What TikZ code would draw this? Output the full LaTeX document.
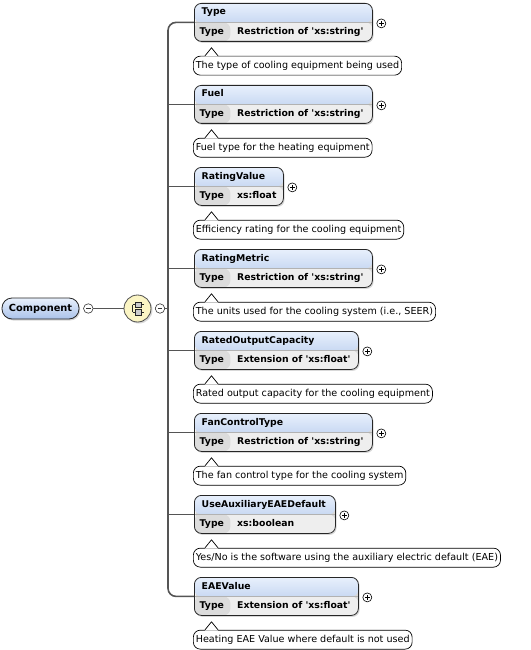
\documentclass[tikz,border=0pt]{standalone}
\usepackage{fontspec}
\setmainfont{DejaVu Sans}[Ligatures=TeXOff]
\usetikzlibrary{calc,shadows}
\definecolor{hdtop}{HTML}{E8F0FC}
\definecolor{hdbot}{HTML}{AAC2E9}
\definecolor{rowgray}{HTML}{EEEEEE}
\definecolor{cellgray}{HTML}{DCDCDC}
\definecolor{linec}{HTML}{555555}
\definecolor{seqfill}{HTML}{FBF5C4}
\tikzset{
  conn/.style={draw=linec, line width=1.6pt},
  elembox/.style={draw=black!85, line width=0.8pt, rounded corners=7pt,
    minimum height=38pt, inner sep=0pt, anchor=north west,
    drop shadow={shadow xshift=1.2pt, shadow yshift=-1.5pt, opacity=0.3},
    path picture={
      \shade[top color=hdtop, bottom color=hdbot]
        (path picture bounding box.north west) rectangle (path picture bounding box.east);
      \fill[rowgray] (path picture bounding box.south west) rectangle (path picture bounding box.east);
      \fill[cellgray] (path picture bounding box.south west) rectangle ($(path picture bounding box.west)+(36pt,0pt)$);
      \draw[black!30, line width=0.5pt] (path picture bounding box.west) -- (path picture bounding box.east);
    }},
  nametxt/.style={font=\fontsize{9.3}{11}\selectfont\bfseries, inner sep=0pt, anchor=west,
    text height=7pt, text depth=2pt},
  annot/.style={draw=black, line width=0.7pt, fill=white, rounded corners=7pt,
    minimum height=19pt, inner xsep=2.5pt, inner ysep=0pt, anchor=north west,
    font=\fontsize{9.6}{11}\selectfont, text height=7pt, text depth=2pt},
  plusc/.style={circle, draw=black, fill=white, line width=0.6pt, minimum size=9pt, inner sep=0pt,
    path picture={
      \draw[line width=0.6pt] ([xshift=-2.4pt]path picture bounding box.center) -- ([xshift=2.4pt]path picture bounding box.center);
      \draw[line width=0.6pt] ([yshift=-2.4pt]path picture bounding box.center) -- ([yshift=2.4pt]path picture bounding box.center);
    }},
  minusc/.style={circle, draw=black!80, fill=white, line width=0.6pt, minimum size=9.5pt, inner sep=0pt,
    path picture={
      \draw[line width=0.6pt] ([xshift=-2.4pt]path picture bounding box.center) -- ([xshift=2.4pt]path picture bounding box.center);
    }},
  compbox/.style={draw=black!85, line width=0.8pt, rounded corners=10pt, top color=hdtop, bottom color=hdbot,
    minimum width=77pt, minimum height=21pt, inner sep=0pt,
    font=\fontsize{9.8}{11}\selectfont\bfseries,
    drop shadow={shadow xshift=1.2pt, shadow yshift=-1.5pt, opacity=0.3}},
  seqnode/.style={circle, draw=black!70, fill=seqfill, line width=0.8pt, minimum size=27pt, inner sep=0pt,
    drop shadow={shadow xshift=1.5pt, shadow yshift=-1.5pt, opacity=0.3}},
  iconline/.style={draw=black!85, line width=0.9pt},
  iconbox/.style={draw=black!85, fill=black!20, line width=0.8pt}
}
\begin{document}
\begin{tikzpicture}[x=1pt, y=-1pt]
\useasboundingbox (0,0) rectangle (530,650);
\fill[white] (0,0) rectangle (530,650);

% root and compositor
\node[compbox] (comp) at (40.5,308.5) {Component};
\node[minusc] (m1) at (88.3,308.5) {};
\node[seqnode] (seq) at (137.5,308.5) {};
\node[minusc] (m2) at (160,308.5) {};
\coordinate (barx) at (168,308.5);
\begin{scope}[shift={(seq.center)}]
  \draw[iconline] (-5,-3.8) -- (6,-3.8);
  \draw[iconline] (-5,3.8) -- (6,3.8);
  \draw[iconline] (-5,-3.8) -- (-5,3.8);
  \draw[iconbox] (-2.5,-6.6) rectangle (3.5,-1.0);
  \draw[iconbox] (-2.5,1.0) rectangle (3.5,6.6);
\end{scope}

% elements
\foreach \i/\nm/\ty/\w/\an in {
  {1/Type/Restriction of 'xs:string'/178/{The type of cooling equipment being used}},
  {2/Fuel/Restriction of 'xs:string'/178/{Fuel type for the heating equipment}},
  {3/RatingValue/xs:float/89/{Efficiency rating for the cooling equipment}},
  {4/RatingMetric/Restriction of 'xs:string'/178/{The units used for the cooling system (i.e., SEER)}},
  {5/RatedOutputCapacity/Extension of 'xs:float'/164/{Rated output capacity for the cooling equipment}},
  {6/FanControlType/Restriction of 'xs:string'/178/{The fan control type for the cooling system}},
  {7/UseAuxiliaryEAEDefault/{xs:boolean}/141/{Yes/No is the software using the auxiliary electric default (EAE)}},
  {8/EAEValue/Extension of 'xs:float'/164/{Heating EAE Value where default is not used}}}
{
  \pgfmathsetmacro\T{3+82*(\i-1)}
  \node[elembox, minimum width=\w pt] (e\i) at (194,\T) {};
  \node[nametxt] (n\i) at ($(e\i.north west)+(7.5pt,-9.5pt)$) {\nm};
  \node[nametxt] (k\i) at ($(e\i.south west)+(5.5pt,9.5pt)$) {Type};
  \node[nametxt] (v\i) at ($(e\i.south west)+(43pt,9.5pt)$) {\ty};
  \node[plusc] (p\i) at ($(e\i.east)+(8.5pt,-1pt)$) {};
  \node[annot] (a\i) at ($(e\i.south west)+(-1pt,-14pt)$) {\an};
  \fill[white] ($(a\i.north west)+(12pt,-0.7pt)$) -- ($(a\i.north west)+(18.5pt,8pt)$) -- ($(a\i.north west)+(25pt,-0.7pt)$) -- cycle;
  \draw[black, line width=0.7pt] ($(a\i.north west)+(12pt,0pt)$) -- ($(a\i.north west)+(18.5pt,8pt)$) -- ($(a\i.north west)+(25pt,0pt)$);
}

% connectors
\draw[conn] (m1.east) -- (seq.west);
\draw[conn] (m2.east) -- (m2.east -| barx);
\draw[conn, rounded corners=8pt] (e1.west) -- (e1.west -| barx) -- (e8.west -| barx) -- (e8.west);
\foreach \i in {2,...,7} {
  \draw[conn] (e\i.west -| barx) -- (e\i.west);
}
\end{tikzpicture}
\end{document}
